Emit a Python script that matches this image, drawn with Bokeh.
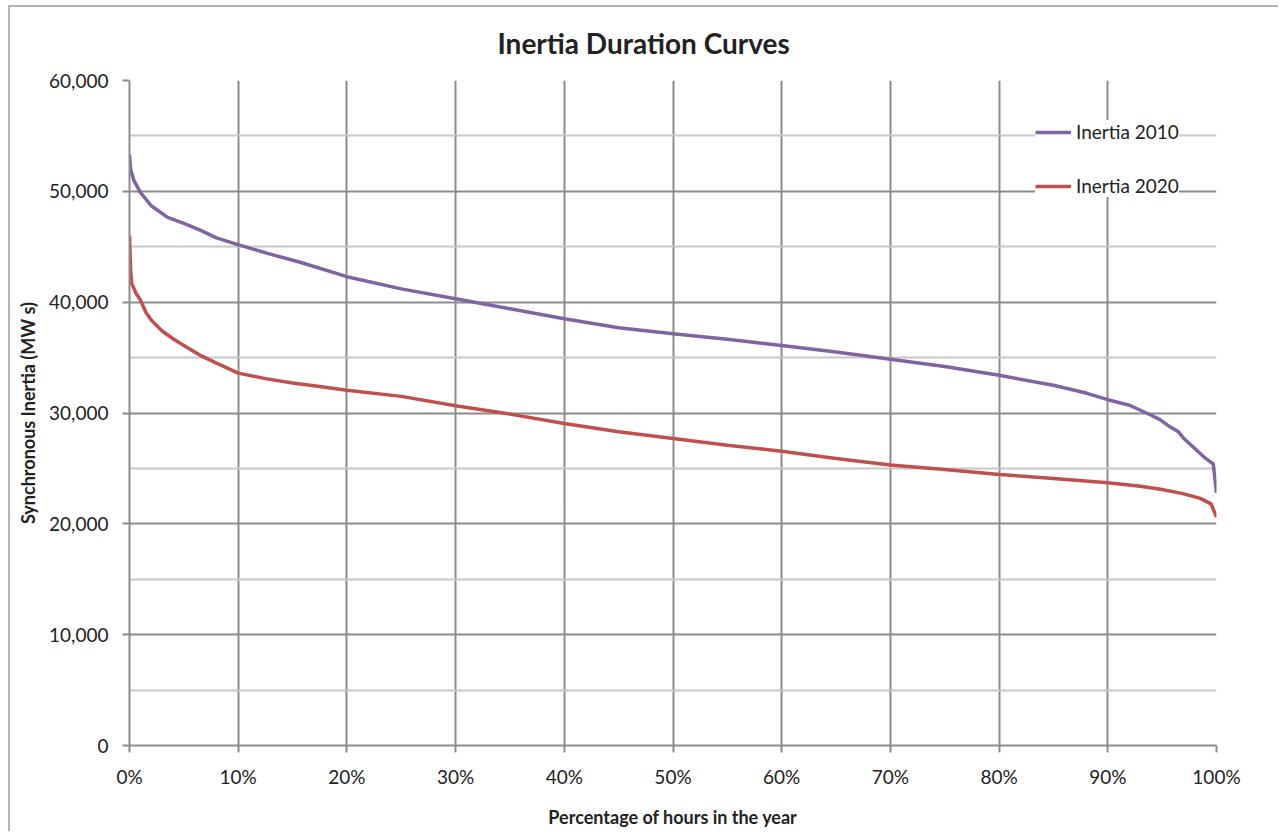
from bokeh.plotting import figure
from bokeh.models import FixedTicker, NumeralTickFormatter, Legend, LegendItem
from bokeh.embed import file_html
from bokeh.resources import INLINE

# ---- data ----
x_2010 = [0.0, 0.001, 0.004, 0.01, 0.02, 0.035, 0.05, 0.065, 0.08, 0.096, 0.127, 0.157,
          0.20, 0.25, 0.30, 0.35, 0.40, 0.45, 0.50, 0.55, 0.60, 0.65, 0.70, 0.75, 0.80,
          0.85, 0.88, 0.90, 0.92, 0.94, 0.948, 0.955, 0.965, 0.97, 0.98, 0.99, 0.997, 1.0]
y_2010 = [53300, 52000, 51000, 49900, 48700, 47650, 47100, 46500, 45800, 45300, 44400, 43600,
          42300, 41200, 40300, 39400, 38500, 37700, 37150, 36650, 36100, 35500, 34850, 34200, 33400,
          32500, 31800, 31200, 30700, 29800, 29400, 28900, 28300, 27700, 26800, 25900, 25400, 22800]

x_2020 = [0.0, 0.001, 0.002, 0.006, 0.01, 0.015, 0.02, 0.03, 0.04, 0.05, 0.065, 0.08, 0.10,
          0.125, 0.15, 0.175, 0.20, 0.25, 0.30, 0.35, 0.40, 0.45, 0.50, 0.55, 0.60, 0.65,
          0.70, 0.75, 0.80, 0.85, 0.90, 0.93, 0.95, 0.97, 0.985, 0.995, 1.0]
y_2020 = [46000, 43000, 41700, 40800, 40200, 39100, 38400, 37400, 36700, 36100, 35200, 34500, 33600,
          33100, 32700, 32400, 32050, 31500, 30650, 29900, 29050, 28300, 27700, 27100, 26550, 25900,
          25300, 24900, 24450, 24100, 23700, 23400, 23100, 22700, 22300, 21800, 20600]

title_text = "Inertia Duration Curves"
series_names = ["Inertia 2010", "Inertia 2020"]
series_colors = ["#8064A2", "#C0504D"]
x_ticks = [0.0, 0.1, 0.2, 0.3, 0.4, 0.5, 0.6, 0.7, 0.8, 0.9, 1.0]
y_ticks = [0, 10000, 20000, 30000, 40000, 50000, 60000]
y_minor = [5000, 15000, 25000, 35000, 45000, 55000]

FONT = "Lato"
TXT = "#222222"
GRID = "#8c8c8c"
MINOR = "#c8c8c8"

p = figure(width=1270, height=826, output_backend="svg", toolbar_location=None,
           x_range=(0, 1), y_range=(0, 60000),
           min_border_left=119, min_border_right=64, min_border_top=73, min_border_bottom=88)
p.styles = {"margin-left": "8px", "margin-top": "5px",
            "border-left": "2px solid #b4b4b4", "border-top": "2px solid #b4b4b4"}

p.title.text = title_text
p.title.text_font = FONT
p.title.text_font_size = "28px"
p.title.text_font_style = "bold"
p.title.text_color = TXT
p.title.align = "left"
p.title.offset = 368
p.title.vertical_align = "top"
p.title.standoff = 37

p.outline_line_color = None
p.background_fill_color = "white"
p.border_fill_color = "white"

# axes
p.xaxis.ticker = FixedTicker(ticks=x_ticks)
p.yaxis.ticker = FixedTicker(ticks=y_ticks, minor_ticks=y_minor)
p.xaxis.formatter = NumeralTickFormatter(format="0%")
p.yaxis.formatter = NumeralTickFormatter(format="0,0")
for ax in (p.xaxis, p.yaxis):
    ax.axis_line_color = GRID
    ax.axis_line_width = 2
    ax.major_tick_line_color = GRID
    ax.major_tick_line_width = 2
    ax.major_tick_out = 7
    ax.major_tick_in = 0
    ax.minor_tick_out = 0
    ax.minor_tick_in = 0
    ax.major_label_text_font = FONT
    ax.major_label_text_font_size = "19px"
    ax.major_label_text_color = TXT
    ax.axis_label_text_font = FONT
    ax.axis_label_text_font_size = "18px"
    ax.axis_label_text_font_style = "bold"
    ax.axis_label_text_color = TXT
p.xaxis.major_label_standoff = 12
p.yaxis.major_label_standoff = 14
p.xaxis.axis_label = "Percentage of hours in the year"
p.yaxis.axis_label = "Synchronous Inertia (MW s)"
p.xaxis.axis_label_standoff = 15
p.yaxis.axis_label_standoff = 7

# grids
p.xgrid.ticker = FixedTicker(ticks=x_ticks)
p.ygrid.ticker = FixedTicker(ticks=y_ticks, minor_ticks=y_minor)
p.xgrid.grid_line_color = GRID
p.xgrid.grid_line_width = 2
p.ygrid.grid_line_color = GRID
p.ygrid.grid_line_width = 2
p.ygrid.minor_grid_line_color = MINOR
p.ygrid.minor_grid_line_width = 2

r1 = p.line(x_2010, y_2010, line_color=series_colors[0], line_width=3.5)
r2 = p.line(x_2020, y_2020, line_color=series_colors[1], line_width=3.5)

legend = Legend(items=[LegendItem(label=series_names[0], renderers=[r1]),
                       LegendItem(label=series_names[1], renderers=[r2])],
                location=(906, 548))
legend.background_fill_color = "white"
legend.background_fill_alpha = 1.0
legend.border_line_color = None
legend.label_text_font = FONT
legend.label_text_font_size = "19px"
legend.label_text_color = TXT
legend.glyph_width = 36
legend.glyph_height = 20
legend.label_height = 20
legend.label_standoff = 5
legend.spacing = 31
legend.padding = 15
legend.margin = 0
p.add_layout(legend, "center")

open("out.html", "w").write(file_html(p, INLINE))
